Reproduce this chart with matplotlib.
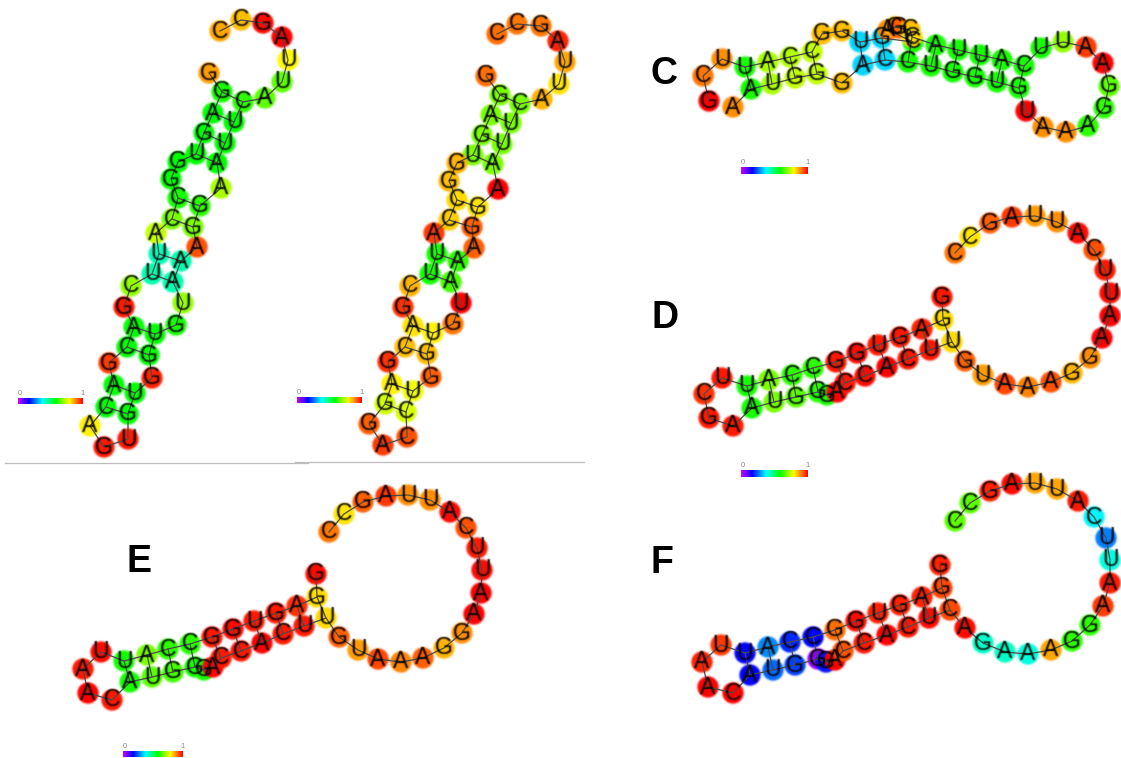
import numpy as np
import matplotlib
matplotlib.use("Agg")
import matplotlib.pyplot as plt
from matplotlib.colors import LinearSegmentedColormap

# ---------- panel A ----------
a_seq = "GGAGUGGCCAUUCGACGACAGUGUGGUGUAAAGGAAUUCAUUAGCC"
a_x = [209,222,213,204,196,178,171,178,172,156,159,152,131,124,134,127,109,114,106,90,104,128,128,135,152,149,155,176,183,173,181,197,193,200,221,217,225,234,243,265,282,288,282,263,241,220]
a_y = [73,92,113,133,154,162,179,198,219,233,254,274,286,307,327,347,363,385,407,426,447,439,414,393,378,355,334,325,303,282,261,247,227,206,188,163,143,122,102,98,82,60,37,23,20,31]
a_val = [.87,.6,.58,.58,.58,.58,.58,.6,.68,.74,
         .43,.44,.7,.98,.58,.58,.95,.58,.58,.8,
         .98,.98,.58,.58,.97,.58,.58,.6,.7,.44,
         .44,.93,.68,.62,.72,.58,.58,.58,.62,.66,
         .66,.79,1.0,.99,.84,.86]
a_pairs = [(1,38),(2,37),(3,36),(4,35),(7,33),(8,32),(10,30),(11,29),(14,26),(15,25),(17,23),(18,22)]

# ---------- panel B ----------
b_seq = "GGAGUGGCCAUUCGACGAGGACCUGGUGUAAAGGAAUUCAUUAGCC"
b_x = [486,500,491,482,473,457,449,457,449,434,437,430,410,403,413,405,388,392,385,369,383,407,406,413,431,427,433,453,461,451,458,474,472,478,498,493,502,511,520,542,559,565,558,541,517,497]
b_y = [76,95,115,135,155,163,181,200,220,233,254,274,286,307,326,347,362,384,404,424,445,437,412,391,377,354,333,324,303,282,261,248,227,207,189,164,144,123,104,99,84,62,41,26,24,34]
b_val = [.91,.68,.68,.68,.68,.85,.84,.82,.83,.95,
         .6,.6,.85,.96,.81,.84,.96,.8,.75,.92,
         .95,.93,.76,.78,.92,.84,.8,.9,1.0,.64,
         .62,.92,.92,.81,1.0,.68,.68,.68,.68,.85,
         .81,.86,.97,.9,.9,.91]
b_pairs = a_pairs

# ---------- panel C ----------
c_seq = "GCUUACCGGUGCAGGCCAUUACUUAAGGAAAUGUGGUCCAGGGUAA"
c_x = [709,703,722,745,768,790,812,822,842,860,882,913,888,895,899,910,912,936,958,980,1002,1024,1041,1063,1086,1103,1109,1104,1088,1066,1043,1026,1019,997,975,953,931,908,885,863,842,817,795,772,751,733]
c_y = [101,76,59,67,62,57,52,34,31,42,38,42,30,27,28,30,37,45,50,55,60,66,48,42,47,63,86,108,126,132,127,111,88,82,77,72,66,62,60,65,83,74,78,84,89,107]
c_val = [1.0,.9,.88,.6,.72,.73,.74,.84,.84,.34,
         .34,.6,.88,.84,.92,.84,.82,.6,.6,.6,
         .6,.6,.6,.7,.95,1.0,.66,.62,.62,.88,
         .88,1.0,.6,.6,.6,.6,.6,.6,.34,.34,
         .84,.74,.74,.72,.6,.88]
c_pairs = [(3,44),(4,43),(5,42),(6,41),(9,39),(10,38),(16,37),(17,36),(18,35),(19,34),(20,33),(21,32)]

# ---------- panel D ----------
d_seq = "GGAGUGGCCAUUCGAAUGGGACCACUUGUAAAGGAAUUCAUUAGCC"
d_x = [942,943,922,900,878,857,836,813,792,769,747,722,704,709,733,752,774,796,818,827,837,845,865,887,908,930,952,965,983,1005,1028,1051,1072,1090,1102,1110,1110,1105,1094,1078,1057,1035,1012,990,970,955]
d_y = [297,320,329,337,345,353,362,368,375,380,386,378,394,418,426,408,402,397,392,395,392,383,376,367,359,350,342,361,375,384,387,382,373,358,338,316,293,270,250,233,222,216,217,223,237,253]
d_val = [.98,.82,.97,.98,.98,.99,.98,.62,.62,.68,
         .6,.98,.96,.98,.98,.6,.68,.66,.62,.6,
         1.0,.98,.99,1.0,.98,.98,.82,.92,.87,.94,
         .89,.93,.85,.88,1.0,1.0,.99,.98,.93,.99,
         .88,.87,.95,.92,.81,.9]
d_pairs = [(1,26),(2,25),(3,24),(4,23),(5,22),(6,21),(7,18),(8,17),(9,16),(10,15)]

# ---------- panel E ----------
e_seq = "GGAGUGGCCAUUAACAUGGGACCACUUGUAAAGGAAUUCAUUAGCC"
e_x = [316,317,297,276,254,233,212,190,168,147,124,101,83,88,112,130,152,173,195,204,213,221,241,262,283,304,326,339,358,378,401,423,444,462,474,481,482,477,466,450,430,408,386,363,344,329]
e_y = [574,597,606,613,621,629,637,644,649,655,661,652,669,693,700,682,677,672,667,670,667,658,651,643,634,626,618,637,650,659,662,658,648,633,614,593,570,548,528,512,500,495,496,502,514,532]
e_val = [.99,.82,.96,.98,.98,.99,.98,.62,.62,.68,
         .6,.99,.98,1.0,.98,.6,.66,.64,.6,.6,
         1.0,.98,.98,1.0,.98,.98,.82,.92,.87,.94,
         .89,.92,.85,.88,1.0,1.0,.99,.98,.93,.99,
         .88,.88,.95,.92,.81,.9]
e_pairs = d_pairs

# ---------- panel F ----------
f_seq = "GGAGUGGCCAUUAACAUGGGACCACUCAGAAAGGAAUUCAUUAGCC"
f_x = [940,942,922,900,878,856,835,813,790,768,745,721,702,708,733,750,773,795,818,826,835,843,864,887,908,929,950,965,983,1005,1028,1051,1072,1090,1103,1110,1110,1106,1094,1078,1057,1035,1012,990,970,955]
f_y = [565,588,597,605,613,621,630,637,642,647,653,645,662,687,693,675,670,665,659,662,660,651,643,635,627,618,610,628,643,652,654,650,641,625,606,583,560,538,517,501,489,483,484,491,503,521]
f_val = [.97,.94,.97,.97,.97,.99,.91,.17,.2,.28,
         .17,.95,.97,1.0,1.0,.17,.25,.22,.04,.18,
         1.0,.93,.98,1.0,.98,.99,.94,.99,.42,.42,
         .40,.86,.62,.62,.95,.98,.4,.27,.37,.98,
         .86,.86,.99,.97,.66,.66]
f_pairs = d_pairs

# ---------- labels, colour bars, divider rules ----------
panel_labels = ["C", "D", "E", "F"]
label_x = [664, 665, 139, 662]
label_y = [74, 318, 562, 563]
bar_x0 = [18, 297, 741, 741, 123]
bar_x1 = [83, 362, 808, 808, 183]
bar_y0 = [398, 397, 167, 470, 751]
bar_y1 = [404, 403, 174, 477, 757]
rule_x0 = [5, 295]
rule_x1 = [308, 584]
rule_y = [463, 462]

cmap = LinearSegmentedColormap.from_list(
    "rna", [(0, "#cc00ff"), (.167, "#0000ff"), (.375, "#00ffff"),
            (.583, "#00ff00"), (.79, "#ffff00"), (1, "#ff0000")])


def soften(im, dpi):
    """Slight blur, like the resampled screenshot."""
    pad = 3
    a = np.pad(im, [(pad, pad), (pad, pad), (0, 0)]).astype(float)
    alpha = a[..., 3:4]
    a[..., :3] *= alpha
    weights = [(-1, .2), (0, .6), (1, .2)]
    for axis in (0, 1):
        a = sum(w * np.roll(a, s, axis=axis) for s, w in weights)
    alpha = a[..., 3:4]
    rgb = np.where(alpha > 1e-4, a[..., :3] / np.maximum(alpha, 1e-4), 0)
    return np.concatenate([np.clip(rgb, 0, 1), np.clip(alpha, 0, 1)], axis=2), -pad, -pad


fig = plt.figure(figsize=(11.21, 7.58), dpi=100)
ax = fig.add_axes([0, 0, 1, 1])
ax.axis("off")


def draw_panel(x, y, seq, val, pairs):
    sc = ax.scatter(x, y, s=235, c=val, cmap=cmap, vmin=0, vmax=1,
                    linewidths=0, zorder=2)
    sc.set_agg_filter(soften)
    ax.plot(x, y, color="#4a4a4a", lw=0.9, zorder=3)
    for i, j in pairs:
        ax.plot([x[i], x[j]], [y[i], y[j]], color="#4a4a4a", lw=0.9, zorder=3)
    for px, py, ch in zip(x, y, seq, strict=True):
        t = ax.text(px, py, ch, ha="center", va="center", fontsize=16.5,
                    family="Liberation Sans", color="#000000", zorder=4)
        t.set_agg_filter(soften)


for args in [(a_x, a_y, a_seq, a_val, a_pairs),
             (b_x, b_y, b_seq, b_val, b_pairs),
             (c_x, c_y, c_seq, c_val, c_pairs),
             (d_x, d_y, d_seq, d_val, d_pairs),
             (e_x, e_y, e_seq, e_val, e_pairs),
             (f_x, f_y, f_seq, f_val, f_pairs)]:
    draw_panel(*args)

gradient = np.linspace(0, 1, 256)[None, :]
for x0, x1, y0, y1 in zip(bar_x0, bar_x1, bar_y0, bar_y1, strict=True):
    ax.imshow(gradient, cmap=cmap, extent=(x0, x1, y1, y0), aspect="auto", zorder=2)
    ax.text(x0 + 2, y0 - 1, "0", ha="center", va="bottom", fontsize=5.5,
            family="Liberation Sans", color="#888888")
    ax.text(x1, y0 - 1, "1", ha="center", va="bottom", fontsize=5.5,
            family="Liberation Sans", color="#888888")

for x0, x1, y in zip(rule_x0, rule_x1, rule_y, strict=True):
    ax.plot([x0, x1], [y, y], color="#bdbdbd", lw=0.9, zorder=1)

for s, x, y in zip(panel_labels, label_x, label_y, strict=True):
    ax.text(x, y, s, ha="center", va="center", fontsize=27, fontweight="bold",
            family="Liberation Sans", color="black", zorder=5)

ax.set_xlim(0, 1121)
ax.set_ylim(758, 0)
fig.savefig("out.png", dpi=100, facecolor="white")
